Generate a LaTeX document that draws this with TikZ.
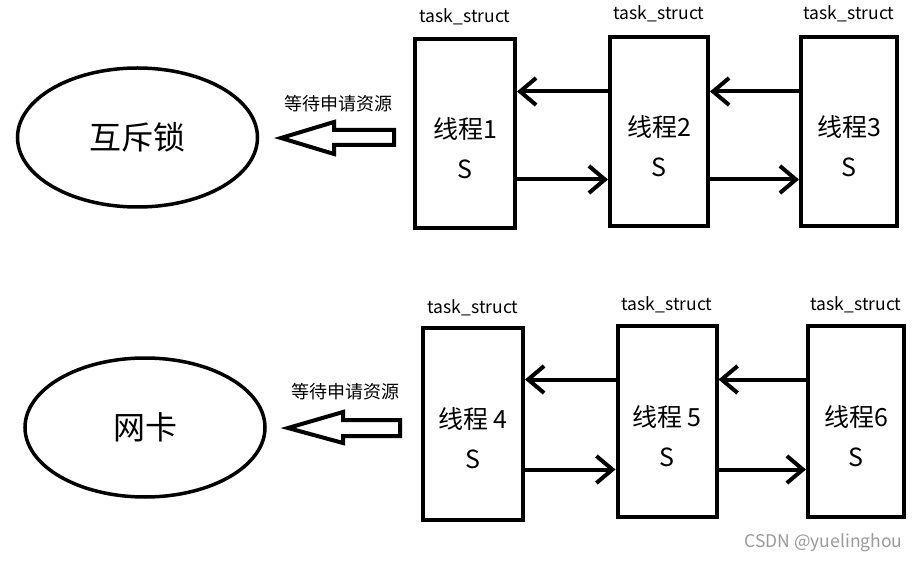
\documentclass[tikz,border=0pt]{standalone}
\usepackage{fontspec}
\setmainfont{Noto Sans CJK SC}
\usetikzlibrary{arrows.meta, shapes.geometric}
\definecolor{markgray}{HTML}{9A9A9A}

\tikzset{
  thread/.style={draw, line width=4pt, minimum width=98pt, minimum height=189pt, inner sep=0pt},
  tname/.style={align=center, font=\fontsize{25}{40}\selectfont},
  tag/.style={font=\fontsize{17.5}{19}\selectfont},
  res/.style={ellipse, draw, line width=3.5pt, minimum width=240pt, minimum height=139pt, inner sep=0pt, font=\fontsize{32}{36}\selectfont},
  link/.style={line width=4pt, -{Straight Barb[length=16pt,width=27pt]}},
  fatarrow/.style={line width=4pt, line join=miter},
  waitlabel/.style={font=\fontsize{18}{20}\selectfont},
}

\begin{document}
\begin{tikzpicture}[x=1pt,y=-1pt]
    \useasboundingbox (0,0) rectangle (919,564);

    % first row
    \node[res] (lock) at (137.5,137.5) {互斥锁};
    \draw[fatarrow] (281,138) -- (334,122) -- (334,130) -- (394,130) -- (394,145) -- (334,145) -- (334,154) -- cycle;
    \node[waitlabel] (w1) at (338,104) {等待申请资源};

    \node[thread, minimum width=100pt] (b1) at (465,133.5) {};
    \node[thread] (b2) at (659,131.5) {};
    \node[thread, minimum width=96pt] (b3) at (849,131.5) {};
    \node[tname] (t1) at ([yshift=-14.5pt]b1.center) {线程1\\S};
    \node[tname] (t2) at ([yshift=-14.5pt]b2.center) {线程2\\S};
    \node[tname] (t3) at ([yshift=-14.5pt]b3.center) {线程3\\S};
    \node[tag] (s1) at ([yshift=20pt]b1.north) {task\_struct};
    \node[tag] (s2) at ([yshift=21pt]b2.north) {task\_struct};
    \node[tag] (s3) at ([yshift=21pt]b3.north) {task\_struct};

    \draw[link] ([yshift=40pt]b2.west) -- ([yshift=40pt]b2.west -| b1.east);
    \draw[link] ([yshift=-48pt]b2.west -| b1.east) -- ([yshift=-48pt]b2.west);
    \draw[link] ([yshift=40pt]b3.west) -- ([yshift=40pt]b3.west -| b2.east);
    \draw[link] ([yshift=-48pt]b3.west -| b2.east) -- ([yshift=-48pt]b3.west);

    % second row
    \node[res] (nic) at (145,427.5) {网卡};
    \draw[fatarrow] (288,428) -- (343,412) -- (343,420) -- (400,420) -- (400,436) -- (343,436) -- (343,443) -- cycle;
    \node[waitlabel] (w2) at (345,392) {等待申请资源};

    \node[thread, minimum width=100pt, minimum height=192pt] (b4) at (473,424) {};
    \node[thread, minimum width=99pt, minimum height=191pt] (b5) at (667,421.5) {};
    \node[thread, minimum width=96pt, minimum height=191pt] (b6) at (856,421.5) {};
    \node[tname] (t4) at ([yshift=-14.5pt]b4.center) {线程 4\\S};
    \node[tname] (t5) at ([yshift=-14.5pt]b5.center) {线程 5\\S};
    \node[tname] (t6) at ([yshift=-14.5pt]b6.center) {线程6\\S};
    \node[tag] (s4) at ([yshift=18.5pt]b4.north) {task\_struct};
    \node[tag] (s5) at ([yshift=19.5pt]b5.north) {task\_struct};
    \node[tag] (s6) at ([yshift=19.5pt]b6.north) {task\_struct};

    \draw[link] ([yshift=42pt]b5.west) -- ([yshift=42pt]b5.west -| b4.east);
    \draw[link] ([yshift=-48pt]b5.west -| b4.east) -- ([yshift=-48pt]b5.west);
    \draw[link] ([yshift=42pt]b6.west) -- ([yshift=42pt]b6.west -| b5.east);
    \draw[link] ([yshift=-48pt]b6.west -| b5.east) -- ([yshift=-48pt]b6.west);

    \node[anchor=east, text=markgray, font=\fontsize{17.5}{19}\selectfont] (wm) at (906,543) {CSDN @yuelinghou};
\end{tikzpicture}
\end{document}
